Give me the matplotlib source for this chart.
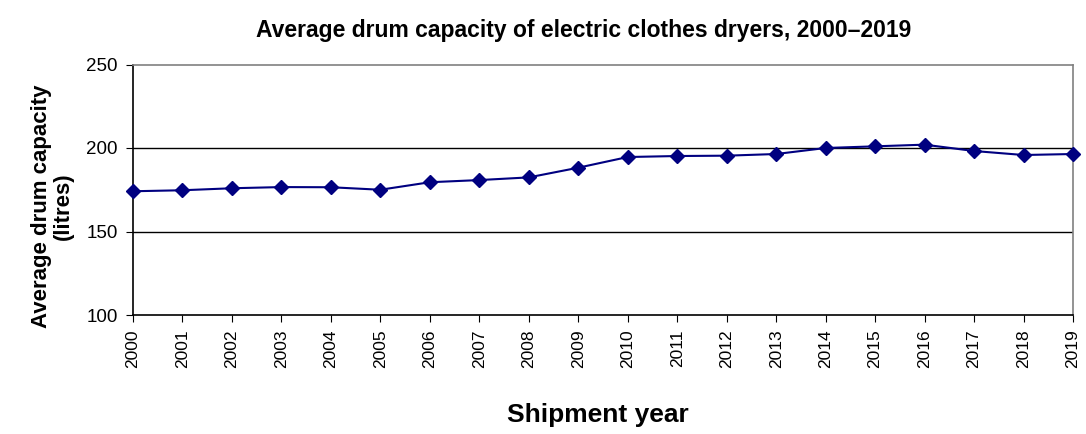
import matplotlib
matplotlib.use("Agg")
import matplotlib.pyplot as plt

years = list(range(2000, 2020))
capacity = [174.1, 174.7, 175.9, 176.6, 176.5, 175.0, 179.5, 180.8, 182.4, 188.2,
            194.6, 195.2, 195.4, 196.4, 200.0, 201.0, 202.0, 198.2, 195.8, 196.4]
year_labels = [str(y) for y in years]
y_ticks = [100, 150, 200, 250]

plt.rcParams['font.family'] = ['Liberation Sans', 'DejaVu Sans']

fig = plt.figure(figsize=(10.86, 4.34), dpi=100)
ax = fig.add_axes([133/1086, 1-315/434, (1073-133)/1086, (315-64.5)/434])

for v in [150, 200]:
    ax.axhline(v, color='black', lw=1.0, zorder=1)

ax.plot(years, capacity, color='#000080', lw=1.5, marker='D', markersize=7,
        markerfacecolor='#000080', markeredgecolor='#000080', zorder=3, clip_on=False)

ax.set_xlim(2000, 2019)
ax.set_ylim(100, 250)
ax.set_yticks(y_ticks)
ax.set_xticks(years)
ax.set_xticklabels(year_labels, rotation=90, fontsize=12.5)
ax.tick_params(axis='y', labelsize=13.5, length=5, direction='out', pad=6)
ax.tick_params(axis='x', length=5, direction='out', pad=5.5)

ax.spines['left'].set_color('black')
ax.spines['bottom'].set_color('black')
ax.spines['top'].set_color('#808080')
ax.spines['right'].set_color('#808080')
for s in ax.spines.values():
    s.set_linewidth(1.2)

fig.text(52/1086, 1 - 206/434, 'Average drum capacity\n(litres)', fontsize=16,
         fontweight='bold', ha='center', va='center', rotation=90, linespacing=1.05)
fig.text(598/1086, 1 - 415/434, 'Shipment year', fontsize=19,
         fontweight='bold', ha='center', va='center')
fig.text(584/1086, 1 - 30/434,
         'Average drum capacity of electric clothes dryers, 2000\u20132019',
         fontsize=16.5, fontweight='bold', ha='center', va='center')

fig.savefig('out.png', dpi=100)
